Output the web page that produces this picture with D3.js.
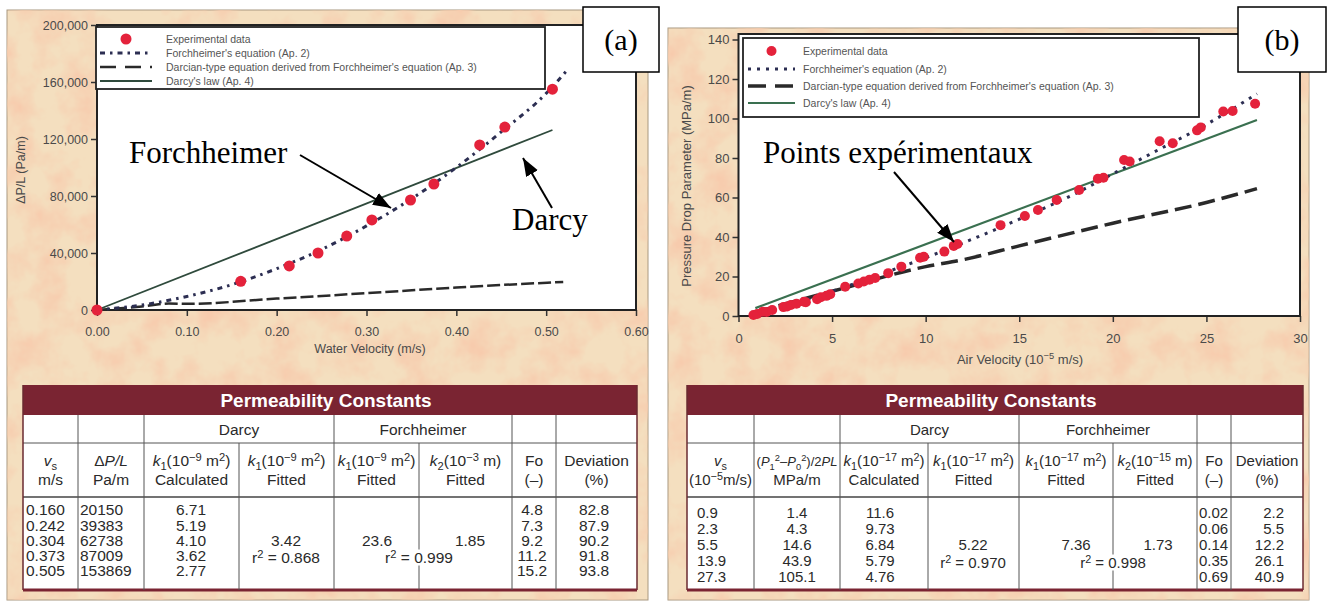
<!DOCTYPE html>
<html><head><meta charset="utf-8">
<script src="https://cdn.jsdelivr.net/npm/d3@7"></script>
<style>body{margin:0;background:#fff;} svg{display:block;font-family:"Liberation Sans",Arial,Helvetica,sans-serif;}</style>
</head><body><svg id="c" width="1330" height="602"></svg>
<script>
// ---------------- Panel (a) data : water ----------------
const aVelocity = [0, 0.160, 0.214, 0.246, 0.278, 0.306, 0.349, 0.375, 0.426, 0.454, 0.507];
const aPressure = [0, 20150, 30900, 40000, 51900, 63200, 77200, 88400, 115800, 128400, 155000];
const aForchV   = [0, 0.05, 0.10, 0.15, 0.20, 0.25, 0.30, 0.35, 0.40, 0.45, 0.50, 0.523];
const aForchP   = [0, 3500, 9500, 17800, 29000, 42500, 59000, 78000, 100000, 125000, 152000, 168000];
const aDarcianV = [0, 0.05, 0.08, 0.10, 0.20, 0.30, 0.40, 0.519];
const aDarcianP = [0, 2500, 4500, 4300, 8000, 11800, 15800, 19700];
const aDarcyV   = [0, 0.507];
const aDarcyP   = [0, 126300];
const aXTicks   = [0, 0.1, 0.2, 0.3, 0.4, 0.5, 0.6];
const aYTicks   = [0, 40000, 80000, 120000, 160000, 200000];

// ---------------- Panel (b) data : air ----------------
const bVelocity = [0.8, 1.0, 1.3, 1.5, 1.8, 2.4, 2.6, 2.8, 3.1, 3.5, 3.6, 4.2, 4.4, 4.7, 4.9, 5.7, 6.4, 6.7, 7.0, 7.3, 8.0, 8.7, 9.7, 9.9, 11.0, 11.5, 11.7, 14.0, 15.3, 16.0, 17.0, 18.2, 19.2, 19.5, 20.6, 20.9, 22.5, 23.2, 24.5, 24.7, 25.9, 26.4, 27.6];
const bPressure = [0.5, 1.0, 2.2, 2.0, 3.0, 4.5, 4.8, 5.6, 6.2, 7.2, 7.0, 8.5, 9.5, 10.2, 11.0, 14.8, 16.5, 17.5, 18.4, 19.2, 21.7, 25.0, 29.5, 30.0, 32.6, 35.5, 36.5, 46.0, 50.6, 53.7, 58.7, 63.8, 69.5, 70.0, 79.0, 78.2, 88.5, 87.5, 94.0, 95.5, 103.5, 103.8, 107.5];
const bForchV   = [0.9, 3, 5, 8, 10, 12, 15, 18, 20, 22, 25, 27.7];
const bForchP   = [1.4, 6.5, 12.5, 22.5, 29.5, 37, 49, 62, 72, 82, 97, 112.5];
const bDarcianV = [0.9, 5, 10, 12, 15, 20, 25, 27.7];
const bDarcianP = [2, 12.5, 25, 28.5, 35.5, 47, 57.5, 64.5];
const bDarcyV   = [0.9, 27.7];
const bDarcyP   = [4, 99.2];
const bXTicks   = [0, 5, 10, 15, 20, 25, 30];
const bYTicks   = [0, 20, 40, 60, 80, 100, 120, 140];

const legendLabels = ["Experimental data", "Forchheimer's equation (Ap. 2)",
  "Darcian-type equation derived from Forchheimer's equation (Ap. 3)", "Darcy's law (Ap. 4)"];

// ---------------- Tables ----------------
const tableTitle = "Permeability Constants";
const groupLabels = ["Darcy", "Forchheimer"];
const aTabVs      = ["0.160", "0.242", "0.304", "0.373", "0.505"];
const aTabDP      = ["20150", "39383", "62738", "87009", "153869"];
const aTabK1Calc  = ["6.71", "5.19", "4.10", "3.62", "2.77"];
const aTabK1Fit   = "3.42", aTabR2Darcy = "0.868";
const aTabFK1     = "23.6", aTabFK2 = "1.85", aTabR2Forch = "0.999";
const aTabFo      = ["4.8", "7.3", "9.2", "11.2", "15.2"];
const aTabDev     = ["82.8", "87.9", "90.2", "91.8", "93.8"];

const bTabVs      = ["0.9", "2.3", "5.5", "13.9", "27.3"];
const bTabDP      = ["1.4", "4.3", "14.6", "43.9", "105.1"];
const bTabK1Calc  = ["11.6", "9.73", "6.84", "5.79", "4.76"];
const bTabK1Fit   = "5.22", bTabR2Darcy = "0.970";
const bTabFK1     = "7.36", bTabFK2 = "1.73", bTabR2Forch = "0.998";
const bTabFo      = ["0.02", "0.06", "0.14", "0.35", "0.69"];
const bTabDev     = ["2.2", "5.5", "12.2", "26.1", "40.9"];

const k1 = e => [["k","i"],["1","sub"],["(10"],["\u2212"+e,"sup"],[" m"],["2","sup"],[")"]];
const aHeaders = [
  [[["v","i"],["s","sub"]], [["m/s"]]],
  [[["\u0394"],["P/L","i"]], [["Pa/m"]]],
  [k1("9"), [["Calculated"]]],
  [k1("9"), [["Fitted"]]],
  [k1("9"), [["Fitted"]]],
  [[["k","i"],["2","sub"],["(10"],["\u22123","sup"],[" m)"]], [["Fitted"]]],
  [[["Fo"]], [["(\u2013)"]]],
  [[["Deviation"]], [["(%)"]]]
];
const bHeaders = [
  [[["v","i"],["s","sub"]], [["(10"],["\u22125","sup"],["m/s)"]]],
  [[["("],["P","i"],["1","sub"],["2","sup"],["\u2013"],["P","i"],["0","sub"],["2","sup"],[")/2"],["PL","i"]], [["MPa/m"]], 13],
  [k1("17"), [["Calculated"]]],
  [k1("17"), [["Fitted"]]],
  [k1("17"), [["Fitted"]]],
  [[["k","i"],["2","sub"],["(10"],["\u221215","sup"],[" m)"]], [["Fitted"]]],
  [[["Fo"]], [["(\u2013)"]]],
  [[["Deviation"]], [["(%)"]]]
];

// ---------------- helpers ----------------
const svg = d3.select("#c");
const defs = svg.append("defs");
const f = defs.append("filter").attr("id","paper").attr("x",0).attr("y",0).attr("width",1).attr("height",1);
f.append("feTurbulence").attr("type","fractalNoise").attr("baseFrequency","0.03").attr("numOctaves",4).attr("seed",7).attr("result","n");
f.append("feColorMatrix").attr("in","n").attr("type","matrix")
  .attr("values","0 0 0 0 0.93  0 0 0 0 0.60  0 0 0 0 0.42  0 0 0 2.2 -0.85");
defs.append("marker").attr("id","arr").attr("markerUnits","userSpaceOnUse")
  .attr("viewBox","0 0 16 12").attr("refX",16).attr("refY",6).attr("markerWidth",18).attr("markerHeight",14)
  .attr("orient","auto").append("path").attr("d","M0,0 L16,6 L0,12 Z").attr("fill","#000");

function rich(sel, segs) {
  let cur = 0;
  segs.forEach(([t, st]) => {
    const s = st === "sub" ? 3.5 : st === "sup" ? -5 : 0;
    const ts = sel.append("tspan").text(t);
    if (s - cur !== 0) ts.attr("dy", s - cur);
    if (st === "sub" || st === "sup") ts.attr("font-size", "0.72em");
    if (st === "i") ts.attr("font-style", "italic");
    cur = s;
  });
}

function panelBg(x, y, w, h) {
  svg.append("rect").attr("x",x).attr("y",y).attr("width",w).attr("height",h).attr("fill","#f4dfbf").attr("stroke","#a89880").attr("stroke-width",1);
  svg.append("rect").attr("x",x).attr("y",y).attr("width",w).attr("height",h).attr("filter","url(#paper)");
}

function chart(o) {
  const g = svg.append("g");
  g.append("rect").attr("x",o.x0).attr("y",o.top).attr("width",o.x1-o.x0).attr("height",o.y0-o.top).attr("fill","#fff");
  const x = d3.scaleLinear().domain(o.xd).range([o.x0, o.x1]);
  const y = d3.scaleLinear().domain(o.yd).range([o.y0, o.y1]);
  const xa = g.append("g").attr("transform",`translate(0,${o.y0})`)
    .call(d3.axisBottom(x).tickValues(o.xt).tickFormat(o.xf).tickSize(6).tickPadding(o.xpad));
  const ya = g.append("g").attr("transform",`translate(${o.x0},0)`)
    .call(d3.axisLeft(y).tickValues(o.yt).tickFormat(o.yf).tickSize(6).tickPadding(3));
  [xa, ya].forEach(a => {
    a.select(".domain").remove();
    a.selectAll("line").attr("stroke","#333").attr("stroke-width",1.5);
    a.selectAll("text").attr("fill","#4a4a4a").attr("font-size",o.tick).attr("font-family","Liberation Sans, Arial, sans-serif");
  });
  g.append("rect").attr("x",o.x0).attr("y",o.top).attr("width",o.x1-o.x0).attr("height",o.y0-o.top)
    .attr("fill","none").attr("stroke","#222").attr("stroke-width",2);
  const line = (vx, vy, c) => d3.line().curve(c || d3.curveLinear).x((d,i)=>x(vx[i])).y((d,i)=>y(vy[i]))(vx);
  const plot = g.append("g");
  plot.append("path").attr("d", line(o.darcianV, o.darcianP, d3.curveMonotoneX)).attr("fill","none")
    .attr("stroke","#2a2a2a").attr("stroke-width",o.dashW).attr("stroke-dasharray",o.dash);
  plot.append("path").attr("d", line(o.darcyV, o.darcyP)).attr("fill","none")
    .attr("stroke",o.darcyC).attr("stroke-width",o.darcyW);
  plot.append("path").attr("d", line(o.forchV, o.forchP, d3.curveMonotoneX)).attr("fill","none")
    .attr("stroke","#2c2e52").attr("stroke-width",3).attr("stroke-dasharray",o.dot);
  plot.selectAll("circle").data(o.ptV).join("circle")
    .attr("cx",(d)=>x(d)).attr("cy",(d,i)=>y(o.ptP[i])).attr("r",o.r).attr("fill","#e4223b");
  g.append("text").attr("x",o.xlx).attr("y",o.xly).attr("text-anchor","middle").attr("fill","#4a4a4a")
    .attr("font-size",o.lab).call(t => rich(t, o.xlab));
  g.append("text").attr("transform",`translate(${o.ylx},${o.yly}) rotate(-90)`).attr("text-anchor","middle")
    .attr("fill","#4a4a4a").attr("font-size",o.lab).call(t => rich(t, o.ylab));
  const L = o.leg;
  g.append("rect").attr("x",L.x).attr("y",L.y).attr("width",L.w).attr("height",L.h).attr("fill","#fff")
    .attr("stroke","#222").attr("stroke-width",1.8);
  L.rows.forEach((ry, i) => {
    if (i === 0) g.append("circle").attr("cx",(L.s0+L.s1)/2).attr("cy",ry).attr("r",o.r).attr("fill","#e4223b");
    if (i === 1) g.append("line").attr("x1",L.s0).attr("x2",L.s1).attr("y1",ry).attr("y2",ry).attr("stroke","#2c2e52").attr("stroke-width",3).attr("stroke-dasharray",o.dot);
    if (i === 2) g.append("line").attr("x1",L.s0).attr("x2",L.s1).attr("y1",ry).attr("y2",ry).attr("stroke","#2a2a2a").attr("stroke-width",o.dashW).attr("stroke-dasharray",L.dash);
    if (i === 3) g.append("line").attr("x1",L.s0).attr("x2",L.s1).attr("y1",ry).attr("y2",ry).attr("stroke",o.darcyC).attr("stroke-width",o.darcyW);
    g.append("text").attr("x",L.tx).attr("y",ry+3.5).attr("fill","#555").attr("font-size",L.fs).text(legendLabels[i]);
  });
}

function labelBox(x, y, w, h, t) {
  svg.append("rect").attr("x",x).attr("y",y).attr("width",w).attr("height",h).attr("fill","#fff").attr("stroke","#000").attr("stroke-width",1.5);
  svg.append("text").attr("x",x+w/2).attr("y",y+h/2+10).attr("text-anchor","middle")
    .attr("font-family","Liberation Serif, Times New Roman, serif").attr("font-size",30).text(t);
}
function note(t, tx, ty, x1, y1, x2, y2) {
  svg.append("text").attr("x",tx).attr("y",ty).attr("font-family","Liberation Serif, Times New Roman, serif")
    .attr("font-size",31).attr("fill","#000").text(t);
  svg.append("line").attr("x1",x1).attr("y1",y1).attr("x2",x2).attr("y2",y2).attr("stroke","#000").attr("stroke-width",2).attr("marker-end","url(#arr)");
}

function table(o) {
  const g = svg.append("g").attr("font-size",o.fs).attr("fill","#2a2a2a");
  const E = o.edges, L = E[0], R = E[E.length-1];
  const yH = 385, y1 = 415, y2 = 443, y3 = 497, yB = 590;
  g.append("rect").attr("x",L).attr("y",y1).attr("width",R-L).attr("height",yB-y1).attr("fill","#fff");
  g.append("rect").attr("x",L).attr("y",yH).attr("width",R-L).attr("height",y1-yH).attr("fill","#7a2432");
  g.append("text").attr("x",(L+R)/2 - 4).attr("y",407).attr("text-anchor","middle").attr("fill","#fff")
    .attr("font-weight","bold").attr("font-size",19).text(tableTitle);
  const ln = (xa, ya, xb, yb, c, w) => g.append("line").attr("x1",xa).attr("y1",ya).attr("x2",xb).attr("y2",yb).attr("stroke",c||"#555").attr("stroke-width",w||1);
  ln(L, y2, R, y2); ln(L, y3, R, y3, "#444", 1.5);
  ln(L, yH, L, yB, "#6a2a30", 1.5); ln(R, yH, R, yB, "#6a2a30", 1.5);
  ln(L, yB, R, yB, "#7a2432", 3);
  [1, 2, 4, 6, 7].forEach(i => ln(E[i], y1, E[i], yB));
  [3].forEach(i => ln(E[i], y2, E[i], yB));
  const rows = o.rows;
  const rY = rows[3] + 6.5;
  ln(E[5], y2, E[5], rY-13); ln(E[5], rY+3, E[5], yB);
  g.append("text").attr("x",(E[2]+E[4])/2).attr("y",435).attr("text-anchor","middle").text(groupLabels[0]);
  g.append("text").attr("x",(E[4]+E[6])/2).attr("y",435).attr("text-anchor","middle").text(groupLabels[1]);
  o.headers.forEach((h, i) => {
    const cx = (E[i]+E[i+1])/2;
    const t1 = g.append("text").attr("x",cx).attr("y",466).attr("text-anchor","middle").call(t => rich(t, h[0]));
    if (h[2]) t1.attr("font-size", h[2]);
    g.append("text").attr("x",cx).attr("y",485).attr("text-anchor","middle").call(t => rich(t, h[1]));
  });
  const col = (arr, x, anchor) => arr.forEach((v, i) => g.append("text").attr("x",x).attr("y",rows[i]+5).attr("text-anchor",anchor).text(v));
  col(o.vs, o.cx[0], o.an[0]); col(o.dp, o.cx[1], o.an[1]); col(o.k1c, o.cx[2], o.an[2]);
  col(o.fo, o.cx[6], o.an[6]); col(o.dev, o.cx[7], o.an[7]);
  g.append("text").attr("x",o.cx[3]).attr("y",rows[2]+5).attr("text-anchor","middle").text(o.k1f);
  g.append("text").attr("x",o.cx[3]).attr("y",rY).attr("text-anchor","middle").call(t => rich(t, [["r"],["2","sup"],[" = "+o.r2d]]));
  g.append("text").attr("x",o.cx[4]).attr("y",rows[2]+5).attr("text-anchor","middle").text(o.fk1);
  g.append("text").attr("x",o.cx[5]).attr("y",rows[2]+5).attr("text-anchor","middle").text(o.fk2);
  g.append("text").attr("x",E[5]).attr("y",rY).attr("text-anchor","middle").call(t => rich(t, [["r"],["2","sup"],[" = "+o.r2f]]));
}

// ---------------- draw ----------------
panelBg(7, 10, 641, 590);
panelBg(668, 28, 641, 572);

chart({
  x0: 97, x1: 636, y0: 310, y1: 25, top: 25, xd: [0, 0.6], yd: [0, 200000],
  xt: aXTicks, yt: aYTicks, xf: d3.format(".2f"), yf: d3.format(","), xpad: 11, tick: 12.5, lab: 12.5,
  ptV: aVelocity, ptP: aPressure, r: 5.5,
  forchV: aForchV, forchP: aForchP, darcianV: aDarcianV, darcianP: aDarcianP, darcyV: aDarcyV, darcyP: aDarcyP,
  darcyC: "#2f4a3c", darcyW: 1.8, dash: "13,4", dashW: 2.5, dot: "5,5,2.5,5",
  xlab: [["Water Velocity (m/s)"]], xlx: 370, xly: 353,
  ylab: [["\u0394P/L (Pa/m)"]], ylx: 25, yly: 170,
  leg: { x: 96, y: 27, w: 449, h: 62, rows: [39, 53, 67, 81], s0: 100, s1: 152, tx: 166, fs: 10.5, dash: "16,9" }
});

chart({
  x0: 738.5, x1: 1300, y0: 316, y1: 39.5, top: 34, xd: [0, 30], yd: [0, 140],
  xt: bXTicks, yt: bYTicks, xf: d3.format("d"), yf: d3.format("d"), xpad: 12, tick: 13, lab: 13,
  ptV: bVelocity, ptP: bPressure, r: 5,
  forchV: bForchV, forchP: bForchP, darcianV: bDarcianV, darcianP: bDarcianP, darcyV: bDarcyV, darcyP: bDarcyP,
  darcyC: "#3a7050", darcyW: 2.2, dash: "17,7", dashW: 3.5, dot: "3,6",
  xlab: [["Air Velocity (10"],["\u22125","sup"],[" m/s)"]], xlx: 1020, xly: 364,
  ylab: [["Pressure Drop Parameter  (MPa/m)"]], ylx: 691, yly: 186,
  leg: { x: 743, y: 38, w: 456, h: 79, rows: [51, 69, 86, 103], s0: 748, s1: 795, tx: 803, fs: 10.5, dash: "18,9" }
});

labelBox(583, 7, 76, 65, "(a)");
labelBox(1238, 7, 88, 65, "(b)");

note("Forchheimer", 129, 163, 300, 155, 391, 208);
note("Darcy", 512, 230, 552, 208, 523, 158);
note("Points exp\u00e9rimentaux", 763, 163, 894, 172, 954, 242);

table({ edges: [23, 78, 144, 239, 334, 419, 512, 556, 637], headers: aHeaders, rows: [510, 525.5, 541, 556, 571], fs: 15.5,
  vs: aTabVs, dp: aTabDP, k1c: aTabK1Calc, fo: aTabFo, dev: aTabDev,
  k1f: aTabK1Fit, r2d: aTabR2Darcy, fk1: aTabFK1, fk2: aTabFK2, r2f: aTabR2Forch,
  cx: [26, 80, 191, 286, 377, 470, 532, 594], an: ["start","start","middle","middle","middle","middle","middle","middle"] });
table({ edges: [687, 754, 840, 928, 1019, 1113, 1197, 1231, 1303], headers: bHeaders, rows: [513, 529, 545, 561, 577], fs: 15,
  vs: bTabVs, dp: bTabDP, k1c: bTabK1Calc, fo: bTabFo, dev: bTabDev,
  k1f: bTabK1Fit, r2d: bTabR2Darcy, fk1: bTabFK1, fk2: bTabFK2, r2f: bTabR2Forch,
  cx: [697, 797, 880, 973, 1076, 1158, 1199, 1284], an: ["start","middle","middle","middle","middle","middle","start","end"] });
</script>
</body></html>
